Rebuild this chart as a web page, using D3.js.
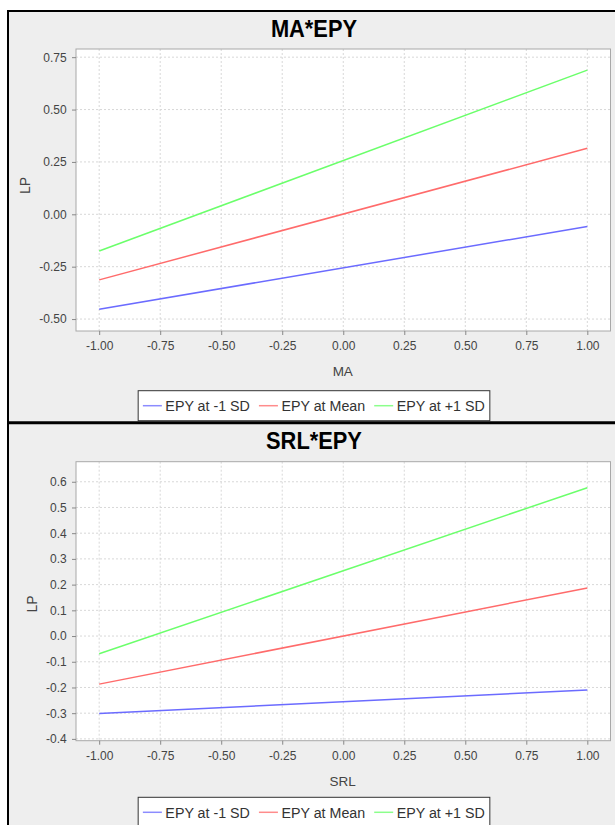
<!DOCTYPE html>
<html><head><meta charset="utf-8">
<script src="https://cdn.jsdelivr.net/npm/d3@7"></script>
<style>body{margin:0;background:#fff;} text{font-family:"Liberation Sans",Arial,Helvetica,sans-serif;}</style>
</head><body><svg id="c" width="615" height="825"></svg>
<script>
// ---- data ----
const xValues = [-1, 1];
const seriesNames = ["EPY at -1 SD", "EPY at Mean", "EPY at +1 SD"];
const maLow  = [-0.453, -0.058];
const maMean = [-0.313, 0.315];
const maHigh = [-0.175, 0.688];
const srlLow  = [-0.301, -0.210];
const srlMean = [-0.187, 0.187];
const srlHigh = [-0.069, 0.577];
const xTicks = [-1, -0.75, -0.5, -0.25, 0, 0.25, 0.5, 0.75, 1];
const maYTicks = [-0.5, -0.25, 0, 0.25, 0.5, 0.75];
const srlYTicks = [-0.4, -0.3, -0.2, -0.1, 0, 0.1, 0.2, 0.3, 0.4, 0.5, 0.6];
const titles = ["MA*EPY", "SRL*EPY"];
const xLabels = ["MA", "SRL"];
const yLabel = "LP";

// ---- layout / style ----
const colors = ["#6b6bff", "#ff6b6b", "#6bff6b"];
const legendColors = ["#8c8cff", "#ff8c8c", "#8cff8c"];
const plotLeft = 76, plotRight = 610.5, centerX = 314;
const panels = [
  {series:[maLow, maMean, maHigh], yTicks:maYTicks, fmt:".2f", top:49, bottom:331,
   yDomain:[-0.557, 0.789], titleBase:36.7, legendTop:390.7, xLabY:371, yLabY:185.5,
   title:titles[0], xLabel:xLabels[0]},
  {series:[srlLow, srlMean, srlHigh], yTicks:srlYTicks, fmt:".1f", top:461.7, bottom:740.7,
   yDomain:[-0.407, 0.678], titleBase:449.4, legendTop:797.3, xLabY:781, yLabY:604,
   title:titles[1], xLabel:xLabels[1]}
];

const svg = d3.select("#c");
svg.append("rect").attr("width",615).attr("height",825).attr("fill","#fff");
svg.append("rect").attr("x",8).attr("y",11).attr("width",620).attr("height",412).attr("fill","#eeeeee");
svg.append("rect").attr("x",8).attr("y",423).attr("width",620).attr("height",410).attr("fill","#eeeeee");

function squeeze(sel, f){
  sel.each(function(){ const w=this.getComputedTextLength(); d3.select(this).attr("textLength", w*f).attr("lengthAdjust","spacingAndGlyphs"); });
}
const hy = f => (d => f(d).replace("\u2212", "-"));

panels.forEach(p => {
  const x = d3.scaleLinear().domain([-1.095, 1.095]).range([plotLeft, plotRight]);
  const y = d3.scaleLinear().domain(p.yDomain).range([p.bottom, p.top]);
  const g = svg.append("g");
  g.append("rect").attr("x",plotLeft).attr("y",p.top).attr("width",plotRight-plotLeft)
    .attr("height",p.bottom-p.top).attr("fill","#fff");
  g.selectAll(".vg").data(xTicks).join("line")
    .attr("x1",d=>x(d)).attr("x2",d=>x(d)).attr("y1",p.top).attr("y2",p.bottom)
    .attr("stroke","#d8d8d8").attr("stroke-width",1).attr("stroke-dasharray","2,2");
  g.selectAll(".hg").data(p.yTicks).join("line")
    .attr("y1",d=>y(d)).attr("y2",d=>y(d)).attr("x1",plotLeft).attr("x2",plotRight)
    .attr("stroke","#d8d8d8").attr("stroke-width",1).attr("stroke-dasharray","2,2");
  const line = d3.line().x((d,i)=>x(xValues[i])).y(d=>y(d));
  p.series.forEach((s,k)=>{
    g.append("path").datum(s).attr("d",line).attr("fill","none")
      .attr("stroke",colors[k]).attr("stroke-width",1.5);
  });
  g.append("rect").attr("x",plotLeft).attr("y",p.top).attr("width",plotRight-plotLeft)
    .attr("height",p.bottom-p.top).attr("fill","none").attr("stroke","#a8a8a8").attr("stroke-width",1);
  const xa = g.append("g").attr("transform",`translate(0,${p.bottom})`)
    .call(d3.axisBottom(x).tickValues(xTicks).tickFormat(hy(d3.format(".2f"))).tickSize(4).tickPadding(6.5));
  const ya = g.append("g").attr("transform",`translate(${plotLeft},0)`)
    .call(d3.axisLeft(y).tickValues(p.yTicks).tickFormat(hy(d3.format(p.fmt))).tickSize(4).tickPadding(5.3));
  [xa,ya].forEach(a=>{
    a.select(".domain").remove();
    a.selectAll("line").attr("stroke","#888");
    a.selectAll("text").attr("font-size",12).attr("fill","#444")
      .style("font-family",'"Liberation Sans",Arial,sans-serif');
  });
  g.append("text").attr("x",(plotLeft+plotRight)/2 - 0.5).attr("y",p.xLabY).attr("dy","0.35em")
    .attr("text-anchor","middle").attr("font-size",13.5).attr("fill","#444").text(p.xLabel);
  let minX = 1e9;
  ya.selectAll("text").each(function(){ minX = Math.min(minX, this.getBBox().x + plotLeft); });
  g.append("text").attr("transform",`translate(${minX-14},${p.yLabY}) rotate(-90)`)
    .attr("dy","0.35em").attr("text-anchor","middle").attr("font-size",14).attr("fill","#444").text(yLabel);
  const t = g.append("text").attr("x",centerX).attr("y",p.titleBase).attr("text-anchor","middle")
    .attr("font-size",24).attr("font-weight","bold").attr("fill","#000").text(p.title);
  squeeze(t, 0.91);
  const lg = svg.append("g");
  const box = lg.append("rect").attr("fill","#fff").attr("stroke","#333").attr("stroke-width",1);
  let cx = 0;
  const cy = p.legendTop + 15;
  seriesNames.forEach((n,k)=>{
    lg.append("line").attr("x1",cx).attr("x2",cx+19).attr("y1",cy).attr("y2",cy)
      .attr("stroke",legendColors[k]).attr("stroke-width",1.5);
    const tx = lg.append("text").attr("x",cx+22.5).attr("y",cy).attr("dy","0.35em")
      .attr("font-size",15.5).attr("fill","#333").text(n);
    squeeze(tx, 0.92);
    const w = +tx.attr("textLength");
    cx = cx + 22.5 + w + 9;
  });
  const contentW = cx - 9;
  const left = 4.7, right = 5;
  const boxW = left + contentW + right;
  const bx = centerX - boxW/2;
  box.attr("x",0).attr("y",p.legendTop).attr("width",boxW).attr("height",30)
    .attr("transform",`translate(${-left},0)`);
  lg.attr("transform",`translate(${bx+left},0)`);
});

svg.append("line").attr("x1",8).attr("x2",8).attr("y1",10).attr("y2",825).attr("stroke","#000").attr("stroke-width",2);
svg.append("line").attr("x1",7).attr("x2",615).attr("y1",11).attr("y2",11).attr("stroke","#000").attr("stroke-width",2);
svg.append("line").attr("x1",7).attr("x2",615).attr("y1",422.8).attr("y2",422.8).attr("stroke","#000").attr("stroke-width",3);
</script></body></html>
